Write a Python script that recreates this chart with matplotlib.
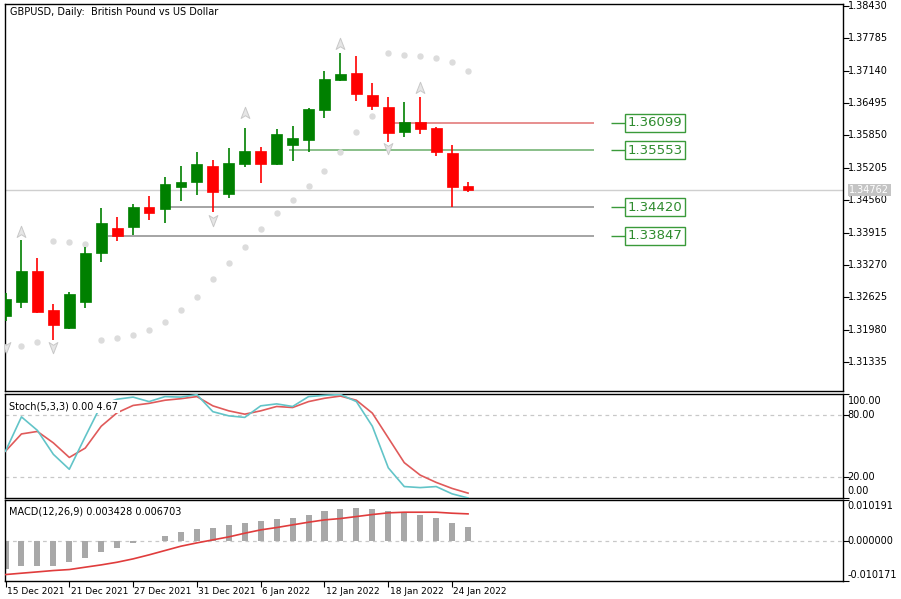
import numpy as np
import pandas as pd
import matplotlib
matplotlib.use("Agg")
import matplotlib.pyplot as plt
from matplotlib.path import Path
from matplotlib.transforms import blended_transform_factory

# ---------------- data ----------------
bar_dates = pd.bdate_range("2021-12-15", "2022-01-25")
date_labels = [f"{d.day} {d:%b %Y}" for d in bar_dates]

open_ = [1.32251, 1.32530, 1.33148, 1.32371, 1.32012, 1.32530, 1.33507, 1.34005, 1.34025, 1.34424,
         1.34384, 1.34822, 1.34922, 1.35241, 1.34683, 1.35281, 1.35540, 1.35281, 1.35659, 1.35759,
         1.36357, 1.36955, 1.37095, 1.36656, 1.36417, 1.35919, 1.36118, 1.35998, 1.35500, 1.34842]
close = [1.32590, 1.33148, 1.32331, 1.32072, 1.32690, 1.33507, 1.34105, 1.33847, 1.34424, 1.34304,
         1.34882, 1.34922, 1.35281, 1.34723, 1.35301, 1.35540, 1.35281, 1.35879, 1.35799, 1.36377,
         1.36975, 1.37075, 1.36676, 1.36437, 1.35899, 1.36118, 1.35978, 1.35520, 1.34822, 1.34762]
high = [1.32700, 1.33766, 1.33407, 1.32490, 1.32730, 1.33626, 1.34404, 1.34225, 1.34484, 1.34643,
        1.35022, 1.35241, 1.35520, 1.35360, 1.35600, 1.35998, 1.35620, 1.35979, 1.36038, 1.36397,
        1.37134, 1.37493, 1.37433, 1.36895, 1.36616, 1.36517, 1.36616, 1.36018, 1.35659, 1.34922]
low = [1.32150, 1.32411, 1.32311, 1.31773, 1.32000, 1.32411, 1.33327, 1.33746, 1.33866, 1.34164,
       1.34105, 1.34543, 1.34663, 1.34324, 1.34603, 1.35221, 1.34902, 1.35260, 1.35340, 1.35520,
       1.36198, 1.36935, 1.36536, 1.36357, 1.35719, 1.35819, 1.35879, 1.35440, 1.34420, 1.34722]

sar = [np.nan, 1.31653, 1.31732, 1.33752, 1.33726, 1.33686, 1.31772, 1.31812, 1.31872, 1.31972,
       1.32132, 1.32371, 1.32630, 1.32989, 1.33308, 1.33626, 1.33985, 1.34304, 1.34564, 1.34843,
       1.35141, 1.35520, 1.35918, 1.36237, 1.37493, 1.37453, 1.37433, 1.37393, 1.37314, 1.37134]

up_fractal_idx = [1, 15, 21, 26]
up_fractal_price = [1.33925, 1.36298, 1.37672, 1.36796]
down_fractal_idx = [0, 3, 13, 24]
down_fractal_price = [1.31633, 1.31633, 1.34164, 1.35600]

level_values = [1.36099, 1.35553, 1.34420, 1.33847]
level_starts = [24.3, 17.8, 9.9, 6.4]
level_labels = ["1.36099", "1.35553", "1.34420", "1.33847"]
current_price = 1.34762

price_ticks = [1.38430, 1.37785, 1.37140, 1.36495, 1.35850, 1.35205, 1.34560,
               1.33915, 1.33270, 1.32625, 1.31980, 1.31335]

stoch_k = [45, 78, 65, 42, 27.6, 59, 89.5, 95, 97, 92.7, 97.5, 97, 99.4, 83, 79, 77.5, 88.6, 90.5,
           88, 97.5, 98.7, 99.5, 92.7, 69, 29, 11, 10, 11, 4, 0.0]
stoch_d = [45, 61.6, 64, 53, 39, 48, 69, 82, 89, 91, 94, 95.5, 97.5, 88.6, 83.8, 80.6, 83.8, 88,
           87, 92.7, 95.9, 98, 94, 81.6, 57.8, 34, 22, 15, 9.2, 4.67]

macd_hist = [-0.00712, -0.00629, -0.00629, -0.00629, -0.00545, -0.00444, -0.00293, -0.00193, -0.00067,
             -0.00015, 0.00126, 0.00209, 0.00302, 0.00327, 0.00402, 0.00453, 0.00503, 0.00553, 0.00578,
             0.00654, 0.00754, 0.00796, 0.00821, 0.00796, 0.00754, 0.00729, 0.00654, 0.00578, 0.00453,
             0.003428]
macd_signal = [-0.00855, -0.00821, -0.00788, -0.00754, -0.00729, -0.00670, -0.00612, -0.00545, -0.00461,
               -0.00360, -0.00251, -0.00142, -0.00059, 0.00017, 0.00092, 0.00184, 0.00268, 0.00327,
               0.00394, 0.00461, 0.00519, 0.00553, 0.00603, 0.00654, 0.00696, 0.00712, 0.00712,
               0.00712, 0.00687, 0.006703]

# ---------------- layout ----------------
W, H = 901, 599
fig = plt.figure(figsize=(W / 100, H / 100), dpi=100)
fig.patch.set_facecolor("white")

FONT = "DejaVu Sans"


def px_axes(l, t, r, b):
    return fig.add_axes([l / W, 1 - b / H, (r - l) / W, (b - t) / H])


PX_PER_BAR = 15.95
x_left = (5 - 5.5) / PX_PER_BAR
x_right = (843 - 5.5) / PX_PER_BAR

ax1 = px_axes(5, 4, 843, 391)
ax2 = px_axes(5, 394, 843, 498)
ax3 = px_axes(5, 500, 843, 581)

for ax in (ax1, ax2, ax3):
    ax.set_xlim(x_left, x_right)
    for s in ax.spines.values():
        s.set_color("black")
        s.set_linewidth(1.0)
    ax.tick_params(axis="y", which="both", left=False, right=True, labelleft=False,
                   labelright=False, direction="out", length=4, width=0.8, color="black")
    ax.tick_params(axis="x", which="both", bottom=False, top=False, labelbottom=False)

n = len(open_)
xs = np.arange(n)

# ---------------- main price panel ----------------
p_top = 1.38430 + (6 - 4) / 5017
p_bot = 1.38430 - (391 - 6) / 5017
ax1.set_ylim(p_bot, p_top)
ax1.set_yticks(price_ticks)

# current price line
ax1.axhline(current_price, color="#cfcfcf", lw=1.0, zorder=1)

# level lines
level_colors = ["#e07070", "#6aae6a", "#8c8c8c", "#8c8c8c"]
line_end = (594 - 5.5) / PX_PER_BAR
for v, s, c in zip(level_values, level_starts, level_colors):
    ax1.hlines(v, s, line_end, color=c, lw=1.1, zorder=2)

# level labels
tick_a = (611 - 5.5) / PX_PER_BAR
tick_b = (627 - 5.5) / PX_PER_BAR
box_cx = (655 - 5.5) / PX_PER_BAR
for v, lab in zip(level_values, level_labels):
    ax1.hlines(v, tick_a, tick_b, color="#3a9a3a", lw=1.0, zorder=3)
    ax1.text(box_cx, v, lab, ha="center", va="center", fontsize=9.5, family=FONT,
             color="#2e8b2e", zorder=4,
             bbox=dict(boxstyle="square,pad=0.18", fc="white", ec="#3a9a3a", lw=1.0))

# parabolic SAR dots
ax1.plot(xs, sar, ls="none", marker="o", ms=3.6, mfc="#dcdcdc", mec="#dcdcdc", zorder=2)

# fractal arrows
up_marker = Path([(0, 1), (0.7, -0.8), (0, -0.35), (-0.7, -0.8), (0, 1)],
                 [Path.MOVETO, Path.LINETO, Path.LINETO, Path.LINETO, Path.CLOSEPOLY])
down_marker = Path([(0, -1), (0.7, 0.8), (0, 0.35), (-0.7, 0.8), (0, -1)],
                   [Path.MOVETO, Path.LINETO, Path.LINETO, Path.LINETO, Path.CLOSEPOLY])
ax1.plot(up_fractal_idx, up_fractal_price, ls="none", marker=up_marker, ms=9,
         mfc="#e6e6e6", mec="#c8c8c8", mew=0.7, zorder=3)
ax1.plot(down_fractal_idx, down_fractal_price, ls="none", marker=down_marker, ms=9,
         mfc="#e6e6e6", mec="#c8c8c8", mew=0.7, zorder=3)

# candles
o = np.array(open_); c = np.array(close); h = np.array(high); l = np.array(low)
cols = np.where(c >= o, "#008000", "#ff0000")
ax1.vlines(xs, l, h, colors=cols, lw=1.2, zorder=4)
body_lo = np.minimum(o, c)
body_h = np.maximum(np.abs(c - o), 0.00012)
ax1.bar(xs, body_h, bottom=body_lo, width=0.68, color=cols, edgecolor=cols, lw=0.5, zorder=5)

# price axis labels
ytr1 = ax1.get_yaxis_transform()
for t in price_ticks:
    ax1.text(1.0055, t, f"{t:.5f}", transform=ytr1, ha="left", va="center",
             fontsize=7, family=FONT, color="black", clip_on=False)
ax1.text(1.0075, current_price, f"{current_price:.5f}", transform=ytr1, ha="left", va="center",
         fontsize=7, family=FONT, color="white", clip_on=False, zorder=6,
         bbox=dict(boxstyle="square,pad=0.15", fc="#c4c4c4", ec="none"))

ax1.text(0.006, 0.98, "GBPUSD, Daily:  British Pound vs US Dollar", transform=ax1.transAxes,
         ha="left", va="center", fontsize=7, family=FONT, color="black")

# ---------------- stochastic panel ----------------
ax2.set_ylim(0, 100)
ax2.set_yticks([100, 80, 20, 0])
for lv in (80, 20):
    ax2.axhline(lv, color="#c8c8c8", lw=0.9, ls=(0, (3, 3)), zorder=1)
ax2.plot(xs, stoch_d, color="#e05a5a", lw=1.2, zorder=3)
ax2.plot(xs, stoch_k, color="#62c4c8", lw=1.2, zorder=3)
ytr2 = ax2.get_yaxis_transform()
for v, va in ((100, "top"), (80, "center"), (20, "center"), (0, "bottom")):
    ax2.text(1.0055, v + (-1.5 if va == "top" else (1.5 if va == "bottom" else 0)), f"{v:.2f}",
             transform=ytr2, ha="left", va=va, fontsize=7, family=FONT, clip_on=False)
ax2.text(0.005, 0.88, "Stoch(5,3,3) 0.00 4.67", transform=ax2.transAxes, ha="left",
         va="center", fontsize=7, family=FONT, zorder=6,
         bbox=dict(boxstyle="square,pad=0.15", fc="white", ec="none"))

# ---------------- MACD panel ----------------
ax3.set_ylim(-0.010171, 0.010191)
ax3.set_yticks([0.010191, 0.0, -0.010171])
ax3.axhline(0, color="#c8c8c8", lw=0.9, ls=(0, (3, 3)), zorder=1)
ax3.bar(xs, macd_hist, width=0.38, color="#a8a8a8", zorder=2)
ax3.plot(xs, macd_signal, color="#e03c3c", lw=1.2, zorder=3)
ytr3 = ax3.get_yaxis_transform()
for v, lab, va in ((0.010191, "0.010191", "top"), (0.0, "0.000000", "center"),
                   (-0.010171, "-0.010171", "bottom")):
    off = -0.0003 if va == "top" else (0.0003 if va == "bottom" else 0)
    ax3.text(1.0055, v + off, lab, transform=ytr3, ha="left", va=va, fontsize=7,
             family=FONT, clip_on=False)
ax3.text(0.005, 0.86, "MACD(12,26,9) 0.003428 0.006703", transform=ax3.transAxes,
         ha="left", va="center", fontsize=7, family=FONT, zorder=6)

# x axis ticks and date labels
tick_idx = list(range(0, n, 4))
ax3.set_xticks(tick_idx)
ax3.tick_params(axis="x", bottom=True, length=4, width=0.8, direction="out", color="black")
xtr = blended_transform_factory(ax3.transData, fig.transFigure)
for i in tick_idx:
    ax3.text(i + 0.08, 1 - 591 / H, date_labels[i], transform=xtr, ha="left", va="center",
             fontsize=6.5, family=FONT, clip_on=False)

fig.savefig("out.png", dpi=100, facecolor="white")
